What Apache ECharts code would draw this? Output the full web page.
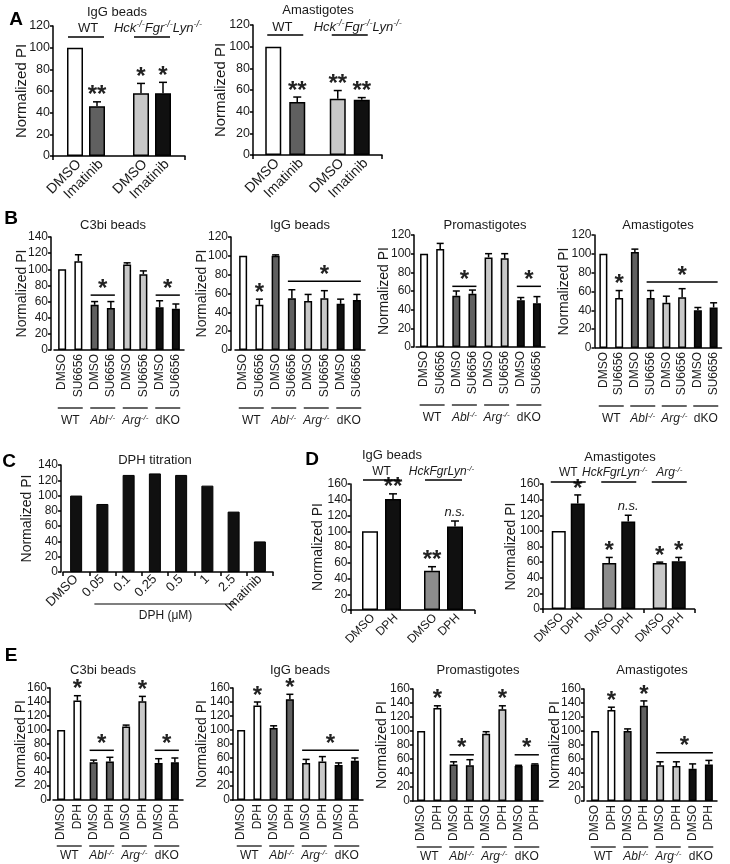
<!DOCTYPE html>
<html><head><meta charset="utf-8">
<script src="https://cdn.jsdelivr.net/npm/echarts@6/dist/echarts.min.js"></script>
<style>html,body{margin:0;padding:0;background:#fff}#c{width:730px;height:864px}</style>
</head><body><div id="c"></div>
<script>
// ================= DATA =================
// Panel A
const A_groups = ['WT', 'Hck-/-Fgr-/-Lyn-/-'];
const A_treatments = ['DMSO', 'Imatinib'];
const A1_title = 'IgG beads';
const A1_dmso = [100, 58];
const A1_dmsoErr = [0, 9];
const A1_drug = [46, 58];
const A1_drugErr = [4, 10];
const A1_dmsoSig = ['', '*'];
const A1_drugSig = ['**', '*'];
const A2_title = 'Amastigotes';
const A2_dmso = [100, 52];
const A2_dmsoErr = [0, 7.5];
const A2_drug = [49, 51];
const A2_drugErr = [4.5, 2];
const A2_dmsoSig = ['', '**'];
const A2_drugSig = ['**', '**'];

// Panel B
const B_genotypes = ['WT', 'Abl-/-', 'Arg-/-', 'dKO'];
const B_treatments = ['DMSO', 'SU6656'];
const B_titles = ['C3bi beads', 'IgG beads', 'Promastigotes', 'Amastigotes'];
const B1_vals = [100, 110, 56, 52, 106, 94, 53, 51];
const B1_errs = [0, 8, 4, 8, 2, 4, 8, 6];
const B1_stars = ['', '', '', '', '', '', '', ''];
const B1_sig = [[2, 3, 68, '*'], [6, 7, 68, '*']];
const B2_vals = [100, 48, 100, 55, 52, 55, 49, 53];
const B2_errs = [0, 6, 1, 9, 7, 8, 5, 6];
const B2_stars = ['', '*', '', '', '', '', '', ''];
const B2_sig = [[3, 7, 73, '*']];
const B3_vals = [100, 105, 55, 57, 96, 95, 50, 47];
const B3_errs = [0, 6, 5, 4, 4, 5, 3, 7];
const B3_stars = ['', '', '', '', '', '', '', ''];
const B3_sig = [[2, 3, 65, '*'], [6, 7, 65, '*']];
const B4_vals = [100, 53, 102, 53, 48, 54, 40, 43];
const B4_errs = [0, 8, 3, 8, 7, 9, 3, 5];
const B4_stars = ['', '*', '', '', '', '', '', ''];
const B4_sig = [[3, 7, 70, '*']];

// Panel C
const C_title = 'DPH titration';
const C_categories = ['DMSO', '0.05', '0.1', '0.25', '0.5', '1', '2.5', 'Imatinib'];
const C_values = [100, 89, 127, 129, 127, 113, 79, 40];
const C_spanLabel = 'DPH (\u03bcM)';
const C_span = [[1, 6, 0]];

// Panel D
const D_treatments = ['DMSO', 'DPH'];
const D1_title = 'IgG beads';
const D1_groups = ['WT', 'HckFgrLyn-/-'];
const D1_dmso = [100, 50];
const D1_dmsoErr = [0, 5];
const D1_drug = [141, 106];
const D1_drugErr = [6.5, 7];
const D1_dmsoSig = ['', '**'];
const D1_drugSig = ['**', 'n.s.'];
const D2_title = 'Amastigotes';
const D2_groups = ['WT', 'HckFgrLyn-/-', 'Arg-/-'];
const D2_dmso = [100, 59, 59];
const D2_dmsoErr = [0, 7, 1];
const D2_drug = [135, 112, 61];
const D2_drugErr = [11, 8, 5];
const D2_dmsoSig = ['', '*', '*'];
const D2_drugSig = ['*', 'n.s.', '*'];

// Panel E
const E_genotypes = ['WT', 'Abl-/-', 'Arg-/-', 'dKO'];
const E_treatments = ['DMSO', 'DPH'];
const E_titles = ['C3bi beads', 'IgG beads', 'Promastigotes', 'Amastigotes'];
const E1_vals = [100, 142, 54, 55, 105, 141, 53, 54];
const E1_errs = [0, 7, 3, 6, 2, 7, 6, 6];
const E1_stars = ['', '*', '', '', '', '*', '', ''];
const E1_sig = [[2, 3, 71, '*'], [6, 7, 71, '*']];
const E2_vals = [100, 135, 103, 144, 53, 55, 50, 56];
const E2_errs = [0, 5, 3, 7, 5, 7, 3, 4];
const E2_stars = ['', '*', '', '*', '', '', '', ''];
const E2_sig = [[4, 7, 71, '*']];
const E3_vals = [100, 133, 52, 51, 96, 131, 50, 52];
const E3_errs = [0, 3, 4, 8, 3, 5, 1, 1];
const E3_stars = ['', '*', '', '', '', '*', '', ''];
const E3_sig = [[2, 3, 66, '*'], [6, 7, 66, '*']];
const E4_vals = [100, 130, 100, 136, 51, 50, 46, 52];
const E4_errs = [0, 4, 3, 7, 5, 6, 7, 6];
const E4_stars = ['', '*', '', '*', '', '', '', ''];
const E4_sig = [[4, 7, 69, '*']];

const Y_NAME = 'Normalized PI';
const PANEL_LETTERS = ['A', 'B', 'C', 'D', 'E'];

// ================= STYLE / LAYOUT =================
const FONT = '"Liberation Sans", Arial, Helvetica, sans-serif';
const INK = '#1a1a1a';
const WHITE = '#ffffff', DARK = '#606060', LIGHT = '#c8c8c8', BLACK = '#101010', MID = '#8c8c8c';
const GENO_COLOR = {'WT': WHITE, 'Abl-/-': DARK, 'Arg-/-': LIGHT, 'dKO': BLACK};
const A_colors = [[WHITE, LIGHT], [DARK, BLACK]];
const D1_colors = [[WHITE, MID], [BLACK, BLACK]];
const D2_colors = [[WHITE, MID, LIGHT], [BLACK, BLACK, BLACK]];

const LAY = {
  A1: {left: 53, top: 26, width: 132, height: 130, max: 120, bw: 16, gap: 6, nameGap: 24, tickFs: 12.5, nameFs: 15, lblFs: 14, lbl: [4, 6], cap: 8,
       hdr: {lineDy: 11, textDy: 2, half: 18, fs: 13, dx: [2, 6]}},
  A2: {left: 253, top: 25, width: 129, height: 130, max: 120, bw: 16, gap: 8, nameGap: 25, tickFs: 12.5, nameFs: 15, lblFs: 14, lbl: [4, 6], cap: 8,
       hdr: {lineDy: 10, textDy: 2, half: 18, fs: 13, dx: [-3, 8]}},
  B: [
    {left: 54, top: 237, width: 130, height: 113, max: 140, yOff: 3, nameGap: 22},
    {left: 235, top: 237, width: 130, height: 113, max: 120, yOff: 4, nameGap: 22},
    {left: 416, top: 235, width: 129, height: 112, max: 120, yOff: 2, nameGap: 23},
    {left: 595.5, top: 235, width: 126, height: 113, max: 120, yOff: 1, nameGap: 23}
  ],
  C: {left: 63, top: 465, width: 210, height: 107, max: 140, yOff: 2, bw: 12, nameGap: 27},
  D1: {left: 350.5, top: 484, width: 124, height: 126, max: 160, bw: 16, gap: 7, nameGap: 25, lblFs: 12, lbl: [3, 6], cap: 8,
       hdr: {lineDy: -4, textDy: -12, half: 18.5, fs: 12, dx: [0, -2]}},
  D2: {left: 543, top: 484, width: 151.5, height: 125, max: 160, bw: 14, gap: 5, nameGap: 25, lblFs: 12, lbl: [3, 6], cap: 7,
       hdr: {lineDy: -2, textDy: -11, half: 17.5, fs: 12, dx: [0, -4, 0]}},
  E: [
    {left: 53, top: 688, width: 130, height: 112, max: 160, yOff: 3, nameGap: 22},
    {left: 233, top: 688, width: 130, height: 112, max: 160, yOff: 0, nameGap: 24},
    {left: 413, top: 689, width: 130, height: 112, max: 160, yOff: 0, nameGap: 24},
    {left: 587, top: 689, width: 130, height: 112, max: 160, yOff: 3, nameGap: 22}
  ]
};
const TITLE_POS = {A1: [117, 12], A2: [318, 10], B: [[113, 225], [300, 225], [485, 225], [658, 225]],
  C: [155, 460], D1: [392, 455], D2: [620, 457], E: [[103, 670], [300, 670], [478, 670], [652, 670]]};
const LETTER_POS = [[16, 20], [11, 219], [9, 462], [312, 460], [11, 656]];

// ================= HELPERS =================
function richText(t) {
  if (t.indexOf('-/-') < 0) return '{n|' + t + '}';
  const parts = t.split('-/-');
  let out = '';
  parts.forEach((p, k) => { if (p) out += '{i|' + p + '}'; if (k < parts.length - 1) out += '{s|-/-}'; });
  return out;
}
function richStyles(fs) {
  const sfs = Math.round(fs * 0.7);
  return {
    n: {fontSize: fs, fontFamily: FONT, fill: INK, lineHeight: fs + 3},
    i: {fontSize: fs, fontFamily: FONT, fill: INK, fontStyle: 'italic', lineHeight: fs + 3},
    s: {fontSize: sfs, fontFamily: FONT, fill: INK, fontStyle: 'italic', lineHeight: sfs, verticalAlign: 'top'}
  };
}
function richEl(x, y, t, fs) {
  return {type: 'text', x: x, y: y, style: {text: richText(t), rich: richStyles(fs), align: 'center', verticalAlign: 'middle'}};
}
function starEl(x, yTop, s) {
  if (s === 'n.s.') return {type: 'text', x: x, y: yTop - 9, style: {text: s, font: 'italic 13px ' + FONT, fill: INK, align: 'center', verticalAlign: 'middle'}};
  return {type: 'text', x: x, y: yTop - 6, style: {text: s, font: 'bold 24px ' + FONT, fill: '#222', align: 'center', verticalAlign: 'middle'}};
}
const LS = {stroke: '#000', lineWidth: 1.5};

const grids = [], xAxes = [], yAxes = [], series = [], graphics = [];

function addAxes(L, cats, xOpts) {
  const k = grids.length;
  grids.push({left: L.left, top: L.top, width: L.width, height: L.height, containLabel: false, outerBoundsMode: 'none'});
  xAxes.push(Object.assign({
    type: 'category', gridIndex: k, data: cats,
    axisLine: {show: true, onZero: false, lineStyle: {color: '#000', width: 1.5}},
    axisTick: {show: false}, splitLine: {show: false}
  }, xOpts));
  yAxes.push({
    type: 'value', gridIndex: k, min: 0, max: L.max, interval: 20, offset: L.yOff || 0,
    axisLine: {show: true, lineStyle: {color: '#000', width: 1.5}},
    axisTick: {show: true, length: 3, lineStyle: {color: '#000', width: 1.5}},
    splitLine: {show: false},
    axisLabel: {fontSize: L.tickFs || 12, color: INK, margin: 3, fontFamily: FONT},
    name: Y_NAME, nameLocation: 'middle', nameGap: L.nameGap, nameMoveOverlap: false,
    nameTextStyle: {fontSize: L.nameFs || 14, color: INK, fontFamily: FONT}
  });
  return k;
}

function errSeries(k, data, stars, cap, dx) {
  return {
    type: 'custom', xAxisIndex: k, yAxisIndex: k, data: data, encode: {x: 0, y: 1}, z: 5, silent: true, clip: false,
    renderItem: function (params, api) {
      const i = api.value(0), v = api.value(1), e = api.value(2);
      const p0 = api.coord([i, v]), p1 = api.coord([i, v + e]);
      const x = p0[0] + dx;
      const ch = [];
      if (e > 0) {
        ch.push({type: 'line', shape: {x1: x, y1: p0[1], x2: x, y2: p1[1]}, style: LS});
        ch.push({type: 'line', shape: {x1: x - cap / 2, y1: p1[1], x2: x + cap / 2, y2: p1[1]}, style: LS});
      }
      const s = stars[params.dataIndex];
      if (s) ch.push(starEl(x, p1[1], s));
      return {type: 'group', children: ch};
    }
  };
}

function sigSeries(k, sig) {
  return {
    type: 'custom', xAxisIndex: k, yAxisIndex: k, data: sig.map(s => [s[0], s[1], s[2]]), encode: {x: [0, 1], y: 2}, z: 5, silent: true, clip: false,
    renderItem: function (params, api) {
      const a = api.coord([api.value(0), api.value(2)]), b = api.coord([api.value(1), api.value(2)]);
      return {type: 'group', children: [
        {type: 'line', shape: {x1: a[0] - 4, y1: a[1], x2: b[0] + 4, y2: a[1]}, style: LS},
        starEl((a[0] + b[0]) / 2, a[1], sig[params.dataIndex][3])
      ]};
    }
  };
}

function genoSeries(k, genotypes, lineDy, textDy) {
  return {
    type: 'custom', xAxisIndex: k, yAxisIndex: k, data: genotypes.map((g, i) => [2 * i, 2 * i + 1, 0]), encode: {x: [0, 1], y: 2}, z: 5, silent: true, clip: false,
    renderItem: function (params, api) {
      const a = api.coord([api.value(0), 0]), b = api.coord([api.value(1), 0]);
      const m = (a[0] + b[0]) / 2;
      return {type: 'group', children: [
        {type: 'line', shape: {x1: m - 12.5, y1: a[1] + lineDy, x2: m + 12.5, y2: a[1] + lineDy}, style: {stroke: '#000', lineWidth: 1.2}},
        richEl(m, a[1] + textDy, genotypes[params.dataIndex], 12)
      ]};
    }
  };
}

function simplePanel(L, genotypes, treatments, vals, errs, stars, sig, geno) {
  const cats = genotypes.flatMap(() => treatments);
  const k = addAxes(L, cats, {axisLabel: {rotate: 90, fontSize: 12, color: INK, margin: 4, fontFamily: FONT, interval: 0}});
  series.push({type: 'bar', xAxisIndex: k, yAxisIndex: k, barWidth: 8, silent: true,
    itemStyle: {borderColor: '#000', borderWidth: 1.5},
    data: vals.map((v, i) => ({value: v, itemStyle: {color: GENO_COLOR[genotypes[Math.floor(i / 2)]]}}))});
  series.push(errSeries(k, vals.map((v, i) => [i, v, errs[i]]), stars, 7, 0));
  series.push(sigSeries(k, sig));
  series.push(genoSeries(k, genotypes, geno[0], geno[1]));
}

function groupedPanel(L, groups, treatments, dmso, dmsoErr, drug, drugErr, dmsoSig, drugSig, colors) {
  const k = addAxes(L, groups, {axisLabel: {show: false},
    axisTick: {show: true, length: 4, lineStyle: {color: '#000', width: 1.5}}});
  const half = (L.bw + L.gap) / 2;
  [[dmso, colors[0], treatments[0]], [drug, colors[1], treatments[1]]].forEach(s => {
    series.push({type: 'bar', name: s[2], xAxisIndex: k, yAxisIndex: k, barWidth: L.bw, barGap: (L.gap / L.bw * 100) + '%', silent: true,
      itemStyle: {borderColor: '#000', borderWidth: 1.5},
      data: s[0].map((v, i) => ({value: v, itemStyle: {color: s[1][i]}}))});
  });
  series.push(errSeries(k, dmso.map((v, i) => [i, v, dmsoErr[i]]), dmsoSig, L.cap, -half));
  series.push(errSeries(k, drug.map((v, i) => [i, v, drugErr[i]]), drugSig, L.cap, half));
  // rotated treatment labels under each bar
  const lblData = [];
  groups.forEach((g, i) => { lblData.push([i, 0, 0]); lblData.push([i, 0, 1]); });
  series.push({
    type: 'custom', xAxisIndex: k, yAxisIndex: k, data: lblData, encode: {x: 0, y: 1}, z: 5, silent: true, clip: false,
    renderItem: function (params, api) {
      const t = api.value(2);
      const c = api.coord([api.value(0), 0]);
      return {type: 'text', x: c[0] + (t ? half : -half) + L.lbl[0], y: c[1] + L.lbl[1], rotation: Math.PI / 4,
        style: {text: treatments[t], font: L.lblFs + 'px ' + FONT, fill: INK, align: 'right', verticalAlign: 'middle'}};
    }
  });
  const H = L.hdr;
  series.push({
    type: 'custom', xAxisIndex: k, yAxisIndex: k, data: groups.map((g, i) => [i, L.max]), encode: {x: 0, y: 1}, z: 5, silent: true, clip: false,
    renderItem: function (params, api) {
      const c = api.coord([api.value(0), api.value(1)]);
      return {type: 'group', children: [
        {type: 'line', shape: {x1: c[0] - H.half, y1: c[1] + H.lineDy, x2: c[0] + H.half, y2: c[1] + H.lineDy}, style: {stroke: '#000', lineWidth: 1.5}},
        richEl(c[0] + H.dx[params.dataIndex], c[1] + H.textDy, groups[params.dataIndex], H.fs)
      ]};
    }
  });
}

// ================= BUILD =================
groupedPanel(LAY.A1, A_groups, A_treatments, A1_dmso, A1_dmsoErr, A1_drug, A1_drugErr, A1_dmsoSig, A1_drugSig, A_colors);
groupedPanel(LAY.A2, A_groups, A_treatments, A2_dmso, A2_dmsoErr, A2_drug, A2_drugErr, A2_dmsoSig, A2_drugSig, A_colors);

const Bdata = [[B1_vals, B1_errs, B1_stars, B1_sig], [B2_vals, B2_errs, B2_stars, B2_sig], [B3_vals, B3_errs, B3_stars, B3_sig], [B4_vals, B4_errs, B4_stars, B4_sig]];
Bdata.forEach((d, j) => simplePanel(LAY.B[j], B_genotypes, B_treatments, d[0], d[1], d[2], d[3], [58, 71]));

// Panel C
(function () {
  const L = LAY.C;
  const k = addAxes(L, C_categories, {
    axisLabel: {rotate: 45, fontSize: 13, color: INK, margin: 5, fontFamily: FONT, interval: 0},
    axisTick: {show: true, length: 4, lineStyle: {color: '#000', width: 1.5}}
  });
  series.push({type: 'bar', xAxisIndex: k, yAxisIndex: k, barWidth: L.bw, silent: true,
    itemStyle: {color: BLACK, borderColor: '#000', borderWidth: 1}, data: C_values});
  series.push({
    type: 'custom', xAxisIndex: k, yAxisIndex: k, data: C_span, encode: {x: [0, 1], y: 2}, z: 5, silent: true, clip: false,
    renderItem: function (params, api) {
      const a = api.coord([api.value(0), 0]), b = api.coord([api.value(1), 0]);
      return {type: 'group', children: [
        {type: 'line', shape: {x1: a[0] - 8, y1: a[1] + 32, x2: b[0] + 3, y2: a[1] + 32}, style: {stroke: '#000', lineWidth: 1.2}},
        {type: 'text', x: (a[0] - 8 + b[0] + 3) / 2, y: a[1] + 44, style: {text: C_spanLabel, font: '12px ' + FONT, fill: INK, align: 'center', verticalAlign: 'middle'}}
      ]};
    }
  });
})();

groupedPanel(LAY.D1, D1_groups, D_treatments, D1_dmso, D1_dmsoErr, D1_drug, D1_drugErr, D1_dmsoSig, D1_drugSig, D1_colors);
groupedPanel(LAY.D2, D2_groups, D_treatments, D2_dmso, D2_dmsoErr, D2_drug, D2_drugErr, D2_dmsoSig, D2_drugSig, D2_colors);

const Edata = [[E1_vals, E1_errs, E1_stars, E1_sig], [E2_vals, E2_errs, E2_stars, E2_sig], [E3_vals, E3_errs, E3_stars, E3_sig], [E4_vals, E4_errs, E4_stars, E4_sig]];
Edata.forEach((d, j) => simplePanel(LAY.E[j], E_genotypes, E_treatments, d[0], d[1], d[2], d[3], [46, 56]));

// titles and letters
function titleEl(p, t) {
  return {type: 'text', x: p[0], y: p[1], silent: true, style: {text: t, font: '13px ' + FONT, fill: INK, align: 'center', verticalAlign: 'middle'}};
}
graphics.push(titleEl(TITLE_POS.A1, A1_title), titleEl(TITLE_POS.A2, A2_title), titleEl(TITLE_POS.C, C_title),
  titleEl(TITLE_POS.D1, D1_title), titleEl(TITLE_POS.D2, D2_title));
B_titles.forEach((t, j) => graphics.push(titleEl(TITLE_POS.B[j], t)));
E_titles.forEach((t, j) => graphics.push(titleEl(TITLE_POS.E[j], t)));
PANEL_LETTERS.forEach((t, j) => graphics.push({type: 'text', x: LETTER_POS[j][0], y: LETTER_POS[j][1], silent: true,
  style: {text: t, font: 'bold 19px ' + FONT, fill: '#000', align: 'center', verticalAlign: 'middle'}}));

const chart = echarts.init(document.getElementById('c'), null, {renderer: 'canvas', width: 730, height: 864});
chart.setOption({
  animation: false,
  backgroundColor: '#ffffff',
  textStyle: {fontFamily: FONT},
  grid: grids, xAxis: xAxes, yAxis: yAxes, series: series, graphic: graphics
});
</script></body></html>
